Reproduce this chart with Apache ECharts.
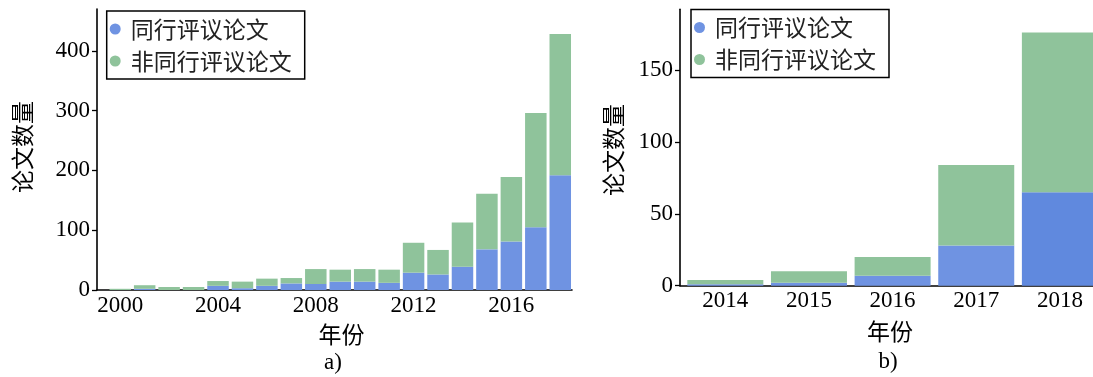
<!DOCTYPE html>
<html>
<head>
<meta charset="utf-8">
<script src="https://cdn.jsdelivr.net/npm/echarts@6/dist/echarts.min.js"></script>
<style>
  html, body { margin: 0; padding: 0; background: #fff; }
  #chart { width: 1093px; height: 377px; }
</style>
</head>
<body>
<div id="chart"></div>
<script>
// Panel a): papers per year, 2000-2018
const yearsA = [2000, 2001, 2002, 2003, 2004, 2005, 2006, 2007, 2008, 2009,
                2010, 2011, 2012, 2013, 2014, 2015, 2016, 2017, 2018];
const peerA = [0, 2, 0, 0, 7, 3, 7, 11, 10, 14, 14, 12, 29, 26, 39, 68, 81, 105, 192];
const nonPeerA = [2, 6, 5, 5, 8, 11, 12, 9, 25, 20, 21, 22, 50, 41, 74, 93, 108, 191, 236];

// Panel b): papers per year, 2014-2018
const yearsB = [2014, 2015, 2016, 2017, 2018];
const peerB = [1, 2, 7, 28, 65];
const nonPeerB = [3, 8, 13, 56, 111];

const xTicksA = [2000, 2004, 2008, 2012, 2016];
const yTicksA = [0, 100, 200, 300, 400];
const xTicksB = [2014, 2015, 2016, 2017, 2018];
const yTicksB = [0, 50, 100, 150];

const seriesNames = ['同行评议论文', '非同行评议论文'];
const axisTitleX = '年份';
const axisTitleY = '论文数量';
const panelTags = ['a)', 'b)'];

const BLUE = '#6f93e2';
const BLUE_DARK = '#6089de';
const GREEN = '#8fc39b';
const SERIF = "'Liberation Serif', 'DejaVu Serif', serif";
const CJK = "'Noto Sans CJK SC', 'Noto Sans', sans-serif";

const chart = echarts.init(document.getElementById('chart'), null, { renderer: 'canvas' });

// rows are [count, year]; the count comes first so the stack runs on it
function rows(xs, ys) { return xs.map((x, i) => [ys[i], x]); }
const ENC = { x: 1, y: 0 };

function valueXAxis(gridIndex, min, max, ticks) {
  return {
    type: 'value', gridIndex, min, max,
    splitLine: { show: false },
    axisLine: { show: true, onZero: false, lineStyle: { color: '#000', width: 1.6 } },
    axisTick: { show: false },
    axisLabel: {
      customValues: ticks, margin: 4,
      color: '#000', fontFamily: SERIF, fontSize: 23,
      formatter: v => String(v)
    }
  };
}

function valueYAxis(gridIndex, max, ticks) {
  return {
    type: 'value', gridIndex, min: 0, max,
    splitLine: { show: false },
    axisLine: { show: true, lineStyle: { color: '#000', width: 1.6 } },
    axisTick: { show: true, customValues: ticks, length: 5, lineStyle: { color: '#000', width: 1.3 } },
    axisLabel: {
      customValues: ticks, margin: 7,
      color: '#000', fontFamily: SERIF, fontSize: 23,
      formatter: v => String(v)
    }
  };
}

function legendAt(left, top) {
  return {
    orient: 'vertical', left, top,
    data: seriesNames,
    icon: 'circle',
    itemWidth: 21, itemHeight: 11, itemGap: 6,
    padding: [5, 13, 5, 3],
    borderColor: '#000', borderWidth: 1.5, borderRadius: 0,
    backgroundColor: '#fff',
    textStyle: { fontFamily: CJK, fontSize: 23, lineHeight: 26, color: '#222' }
  };
}

function text(x, y, str, opts) {
  return Object.assign({
    type: 'text', x, y,
    style: Object.assign({
      text: str, fill: '#000', fontSize: 23, fontFamily: CJK,
      align: 'center', verticalAlign: 'middle'
    }, opts && opts.style)
  }, opts && opts.extra);
}

const option = {
  animation: false,
  backgroundColor: '#fff',
  grid: [
    { left: 97, top: 9, width: 475, height: 281 },
    { left: 680, top: 9.3, right: 0, height: 276.4 }
  ],
  xAxis: [
    valueXAxis(0, 1999.05, 2018.48, xTicksA),
    valueXAxis(1, 2013.458, 2018.396, xTicksB)
  ],
  yAxis: [
    valueYAxis(0, 470, yTicksA),
    valueYAxis(1, 192.2, yTicksB)
  ],
  legend: [legendAt(106.7, 11), legendAt(691, 9.5)],
  series: [
    {
      name: seriesNames[0], type: 'bar', stack: 'a', xAxisIndex: 0, yAxisIndex: 0,
      barWidth: 21.5, encode: ENC, data: rows(yearsA, peerA),
      itemStyle: { color: BLUE }
    },
    {
      name: seriesNames[1], type: 'bar', stack: 'a', xAxisIndex: 0, yAxisIndex: 0,
      barWidth: 21.5, encode: ENC, data: rows(yearsA, nonPeerA),
      itemStyle: { color: GREEN }
    },
    {
      name: seriesNames[0], type: 'bar', stack: 'b', xAxisIndex: 1, yAxisIndex: 1,
      barWidth: 76, encode: ENC,
      data: rows(yearsB, peerB).map((r, i) =>
        i === yearsB.length - 1 ? { value: r, itemStyle: { color: BLUE_DARK } } : r),
      itemStyle: { color: BLUE }
    },
    {
      name: seriesNames[1], type: 'bar', stack: 'b', xAxisIndex: 1, yAxisIndex: 1,
      barWidth: 76, encode: ENC, data: rows(yearsB, nonPeerB),
      itemStyle: { color: GREEN }
    }
  ],
  graphic: [
    text(22, 147, axisTitleY, { extra: { rotation: Math.PI / 2 } }),
    text(613, 150, axisTitleY, { extra: { rotation: Math.PI / 2 } }),
    text(341.5, 334, axisTitleX),
    text(890, 331, axisTitleX),
    text(333, 363, panelTags[0], { style: { fontFamily: SERIF } }),
    text(888, 362, panelTags[1], { style: { fontFamily: SERIF } })
  ]
};

chart.setOption(option);
</script>
</body>
</html>
